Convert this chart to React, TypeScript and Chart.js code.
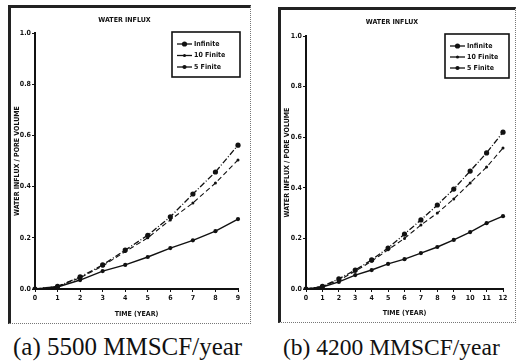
import React, { useEffect, useRef } from "react";
import { Chart, registerables } from "chart.js";
Chart.register(...registerables);

// ---------- data ----------
const SERIES_NAMES = ["Infinite", "10 Finite", "5 Finite"];
const Y_TICK_LABELS = ["0.0", "0.2", "0.4", "0.6", "0.8", "1.0"];

const YEARS_A = ["0", "1", "2", "3", "4", "5", "6", "7", "8", "9"];
const INFINITE_A = [0, 0.01, 0.047, 0.094, 0.152, 0.21, 0.282, 0.371, 0.457, 0.562];
const FINITE10_A = [0, 0.01, 0.044, 0.09, 0.146, 0.2, 0.27, 0.336, 0.414, 0.504];
const FINITE5_A = [0, 0.008, 0.035, 0.07, 0.094, 0.125, 0.16, 0.19, 0.226, 0.273];

const YEARS_B = ["0", "1", "2", "3", "4", "5", "6", "7", "8", "9", "10", "11", "12"];
const INFINITE_B = [0, 0.01, 0.04, 0.075, 0.115, 0.162, 0.217, 0.273, 0.332, 0.395, 0.466, 0.538, 0.62];
const FINITE10_B = [0, 0.01, 0.035, 0.07, 0.11, 0.155, 0.2, 0.253, 0.3, 0.356, 0.419, 0.482, 0.557];
const FINITE5_B = [0, 0.008, 0.028, 0.055, 0.075, 0.099, 0.118, 0.142, 0.166, 0.194, 0.225, 0.26, 0.288];

const CAPTION_A = "(a) 5500 MMSCF/year";
const CAPTION_B = "(b) 4200 MMSCF/year";

// ---------- styles ----------
const INK = "#111";
const FAMILY = "'DejaVu Sans Condensed', 'Liberation Sans Narrow', 'Liberation Sans', sans-serif";
const SMALL = { size: 7, weight: "bold" as const, family: FAMILY };
const SERIES_STYLE = [
  { dash: [6, 2, 1, 2], radius: 2.6, width: 1.3 },
  { dash: [5, 3], radius: 1.5, width: 1.1 },
  { dash: [], radius: 2.1, width: 1.4 },
];

const boxLegend = {
  id: "boxLegend",
  afterDraw(chart: any, _args: any, opts: any) {
    const ca = chart.chartArea;
    const ctx = chart.ctx;
    const left = ca.right + opts.dx - opts.w;
    const top = ca.top + opts.dy;
    ctx.save();
    ctx.fillStyle = "#fff";
    ctx.fillRect(left, top, opts.w, opts.h);
    ctx.strokeStyle = INK;
    ctx.lineWidth = 1.6;
    ctx.strokeRect(left, top, opts.w, opts.h);
    chart.data.datasets.forEach((ds: any, i: number) => {
      const y = top + opts.row0 + i * opts.rowGap;
      const x0 = left + 5;
      ctx.strokeStyle = INK;
      ctx.lineWidth = 1.3;
      ctx.setLineDash([]);
      ctx.beginPath();
      ctx.moveTo(x0, y);
      ctx.lineTo(x0 + 15, y);
      ctx.stroke();
      ctx.fillStyle = INK;
      ctx.beginPath();
      ctx.arc(x0 + 7.5, y, ds.pointRadius, 0, Math.PI * 2);
      ctx.fill();
      ctx.font = `bold 7px ${FAMILY}`;
      ctx.textBaseline = "middle";
      ctx.textAlign = "left";
      ctx.fillText(ds.label, x0 + 17, y);
    });
    ctx.restore();
  },
};

type PanelProps = {
  years: string[];
  series: number[][];
  width: number;
  height: number;
  yW: number;
  xH: number;
  padRight: number;
  titlePad: { top: number; bottom: number };
  legend: { dx: number; dy: number; w: number; h: number; row0: number; rowGap: number };
};

function Panel(p: PanelProps) {
  const ref = useRef<HTMLCanvasElement | null>(null);
  useEffect(() => {
    if (!ref.current) return;
    const chart = new Chart(ref.current, {
      type: "line",
      data: {
        labels: p.years,
        datasets: p.series.map((d, i) => ({
          label: SERIES_NAMES[i],
          data: d,
          borderColor: INK,
          backgroundColor: INK,
          borderWidth: SERIES_STYLE[i].width,
          borderDash: SERIES_STYLE[i].dash,
          pointRadius: SERIES_STYLE[i].radius,
          pointBackgroundColor: INK,
          pointBorderWidth: 0,
          tension: 0,
          fill: false,
        })),
      },
      options: {
        animation: false,
        responsive: false,
        maintainAspectRatio: false,
        events: [],
        layout: { padding: { left: 0, right: p.padRight, top: 0, bottom: 0 } },
        plugins: {
          legend: { display: false },
          tooltip: { enabled: false },
          title: {
            display: true,
            text: "WATER INFLUX",
            color: INK,
            font: SMALL,
            padding: p.titlePad,
          },
          boxLegend: p.legend,
        } as any,
        scales: {
          x: {
            type: "category",
            offset: false,
            grid: { drawOnChartArea: false, drawTicks: true, tickLength: 3, color: INK },
            border: { display: true, color: INK, width: 2 },
            ticks: { color: INK, font: SMALL, padding: 2, maxRotation: 0, autoSkip: false },
            title: { display: true, text: "TIME (YEAR)", color: INK, font: SMALL, padding: { top: 2, bottom: 5 } },
            afterFit: (s: any) => {
              s.height = p.xH;
            },
          },
          y: {
            min: 0,
            max: 1,
            grid: { drawOnChartArea: false, drawTicks: true, tickLength: 3, color: INK },
            border: { display: true, color: INK, width: 2 },
            ticks: {
              stepSize: 0.2,
              color: INK,
              font: SMALL,
              padding: 1,
              callback: (_v: any, idx: number) => Y_TICK_LABELS[idx],
            },
            title: { display: true, text: "WATER INFLUX / PORE VOLUME", color: INK, font: SMALL, padding: { top: 2, bottom: 2 } },
            afterFit: (s: any) => {
              s.width = p.yW;
            },
          },
        },
      } as any,
      plugins: [boxLegend],
    });
    return () => chart.destroy();
  }, []);
  return <canvas ref={ref} width={p.width} height={p.height} style={{ display: "block" }} />;
}

export default function App() {
  const frameA: React.CSSProperties = {
    position: "absolute",
    left: 8,
    top: 5,
    width: 243,
    height: 319,
    boxSizing: "border-box",
    borderTop: "3px solid #222",
    borderLeft: "3px solid #222",
    borderRight: "1px dotted #777",
    borderBottom: "1px dotted #777",
    background: "#fff",
  };
  const frameB: React.CSSProperties = {
    ...frameA,
    left: 278,
    top: 7,
    width: 238,
    height: 316,
  };
  const cap: React.CSSProperties = {
    position: "absolute",
    top: 334,
    fontFamily: "'Liberation Serif', 'DejaVu Serif', serif",
    fontSize: 25,
    lineHeight: "25px",
    color: "#111",
    whiteSpace: "nowrap",
  };
  return (
    <div style={{ position: "absolute", left: 0, top: 0, width: 517, height: 362, background: "#fff" }}>
      <div style={frameA}>
        <Panel
          years={YEARS_A}
          series={[INFINITE_A, FINITE10_A, FINITE5_A]}
          width={239}
          height={315}
          yW={24}
          xH={34}
          padRight={12}
          titlePad={{ top: 8, bottom: 8.6 }}
          legend={{ dx: 2, dy: -1, w: 68, h: 45, row0: 12, rowGap: 11.5 }}
        />
      </div>
      <div style={frameB}>
        <Panel
          years={YEARS_B}
          series={[INFINITE_B, FINITE10_B, FINITE5_B]}
          width={234}
          height={312}
          yW={25}
          xH={33}
          padRight={12}
          titlePad={{ top: 8, bottom: 9.6 }}
          legend={{ dx: 6, dy: -2, w: 64, h: 44, row0: 12, rowGap: 11 }}
        />
      </div>
      <div style={{ ...cap, left: 13 }}>{CAPTION_A}</div>
      <div style={{ ...cap, left: 283, top: 335, fontSize: 23.5, lineHeight: "24px" }}>{CAPTION_B}</div>
    </div>
  );
}
